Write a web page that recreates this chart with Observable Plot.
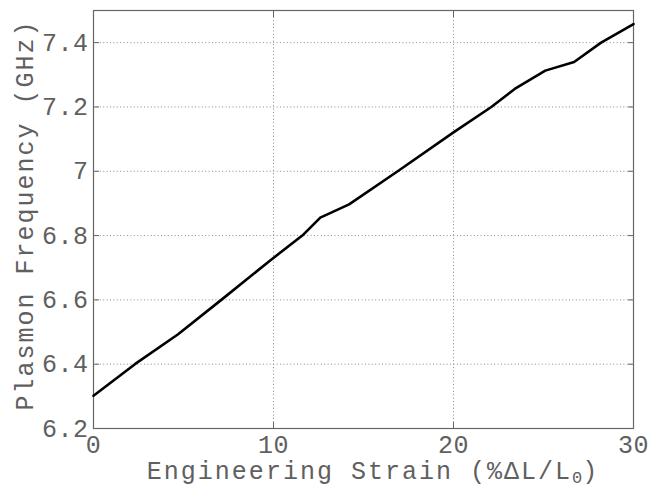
<!DOCTYPE html>
<html>
<head>
<meta charset="utf-8">
<script src="https://cdn.jsdelivr.net/npm/d3@7"></script>
<script src="https://cdn.jsdelivr.net/npm/@observablehq/plot@0.6"></script>
<style>
  html, body { margin: 0; padding: 0; background: #fff; }
  #chart svg { display: block; }
</style>
</head>
<body>
<div id="chart"></div>
<script>
const strain = [0, 2.3, 4.7, 7.1, 9.8, 11.6, 12.6, 14.2, 16.9, 20, 22.1, 23.4, 25.1, 26.7, 28.2, 30];
const freq = [6.302, 6.4, 6.493, 6.6, 6.722, 6.8, 6.856, 6.897, 7.0, 7.121, 7.2, 7.256, 7.313, 7.34, 7.4, 7.458];
const xTicks = [0, 10, 20, 30];
const yTicks = [6.2, 6.4, 6.6, 6.8, 7, 7.2, 7.4];
const xTitle = ["Engineering Strain (%ΔL/L", "0", ")"];
const yTitle = "Plasmon Frequency (GHz)";

const data = strain.map((s, i) => ({s, f: freq[i]}));
const gray = "#666";
const txt = "#606060";
const grid = {stroke: "#8a8a8a", strokeOpacity: 1, strokeDasharray: "1,2.4", strokeWidth: 1};

const chart = Plot.plot({
  width: 648,
  height: 488,
  marginLeft: 93,
  marginRight: 15,
  marginTop: 10,
  marginBottom: 60,
  style: {fontFamily: "'Liberation Mono', monospace", fontSize: "25px", color: txt, background: "#fff", letterSpacing: "0.5px"},
  x: {domain: [0, 30]},
  y: {domain: [6.2, 7.5]},
  marks: [
    Plot.gridX(xTicks, grid),
    Plot.gridY(yTicks, grid),
    Plot.axisX(xTicks, {anchor: "bottom", tickSize: 6, dy: -6, text: null, stroke: gray, label: null}),
    Plot.axisX(xTicks, {anchor: "top", tickSize: 6, dy: 6, text: null, stroke: gray, label: null}),
    Plot.axisY(yTicks, {anchor: "left", tickSize: 6, dx: 6, text: null, stroke: gray, label: null}),
    Plot.axisY(yTicks, {anchor: "right", tickSize: 6, dx: -6, text: null, stroke: gray, label: null}),
    Plot.axisX(xTicks, {anchor: "bottom", tickSize: 0, tickPadding: 7, tickFormat: d => String(d), fill: txt, label: null}),
    Plot.axisY(yTicks, {anchor: "left", tickSize: 0, tickPadding: 5, tickFormat: d => String(d), fill: txt, label: null}),
    Plot.frame({stroke: gray, strokeWidth: 1.2}),
    Plot.line(data, {x: "s", y: "f", stroke: "#000", strokeWidth: 2.6})
  ]
});

document.getElementById("chart").appendChild(chart);

const svg = d3.select(chart);
const xr = chart.scale("x").range;
const yr = chart.scale("y").range;
const cx = (xr[0] + xr[1]) / 2;
const cy = (yr[0] + yr[1]) / 2;

const xt = svg.append("text")
  .attr("x", cx + 10)
  .attr("y", 479)
  .attr("text-anchor", "middle")
  .attr("fill", txt)
  .style("font-family", "'Liberation Mono', monospace")
  .style("font-size", "25px")
  .style("letter-spacing", "2px");
xt.append("tspan").text(xTitle[0]);
xt.append("tspan").attr("dy", 4).style("font-size", "17px").style("letter-spacing", "0px").text(xTitle[1]);
xt.append("tspan").attr("dy", -4).text(xTitle[2]);

svg.append("text")
  .attr("transform", `translate(33,${cy - 4}) rotate(-90)`)
  .attr("text-anchor", "middle")
  .attr("fill", txt)
  .style("font-family", "'Liberation Mono', monospace")
  .style("font-size", "25px")
  .style("letter-spacing", "2px")
  .text(yTitle);
</script>
</body>
</html>
